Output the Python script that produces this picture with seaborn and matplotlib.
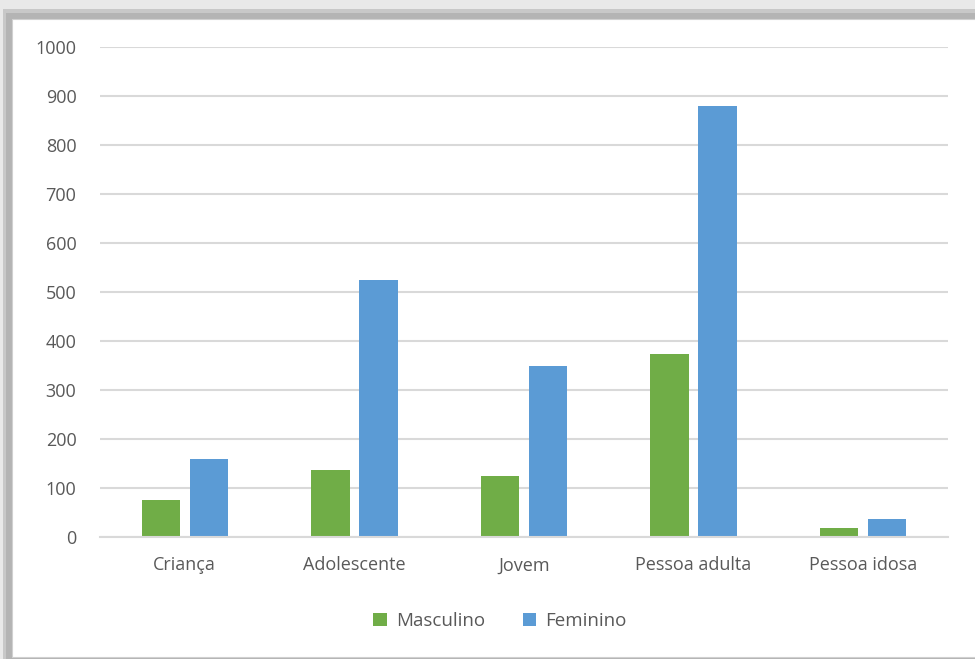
import pandas as pd
import numpy as np
import matplotlib
matplotlib.use("Agg")
import matplotlib.pyplot as plt
import seaborn as sns
from matplotlib.patches import Rectangle

# Faixa etária por sexo
categorias = ["Criança", "Adolescente", "Jovem", "Pessoa adulta", "Pessoa idosa"]
masculino = [76, 137, 124, 373, 18]
feminino = [160, 525, 350, 880, 37]
series = ["Masculino", "Feminino"]
cores = ["#70AD47", "#5B9BD5"]

df = pd.DataFrame({
    "categoria": categorias * 2,
    "sexo": ["Masculino"] * len(categorias) + ["Feminino"] * len(categorias),
    "valor": masculino + feminino,
})

sns.set_style("white")
plt.rcParams["font.family"] = ["Open Sans", "DejaVu Sans"]

W, H = 975, 659
fig = plt.figure(figsize=(W / 100, H / 100), dpi=100)
fig.patch.set_facecolor("#e9e9e9")

# moldura com sombra (estilo Excel)
fig.patches.append(Rectangle((3 / W, 0), 1, 1 - 9 / H, transform=fig.transFigure,
                             facecolor="#c8c8c8", edgecolor="none", zorder=-9))
fig.patches.append(Rectangle((6 / W, 0), 1, 1 - 13 / H, transform=fig.transFigure,
                             facecolor="#b4b4b4", edgecolor="none", zorder=-9))
fig.patches.append(Rectangle((12 / W, 2 / H), 1, 1 - 21 / H, transform=fig.transFigure,
                             facecolor="white", edgecolor="#d0d0d0", lw=0.8, zorder=-8))

ax = fig.add_axes([100 / W, 1 - 537 / H, 848 / W, 490 / H])
ax.set_facecolor("none")

sns.barplot(data=df, x="categoria", y="valor", hue="sexo", hue_order=series,
            order=categorias, palette=cores, width=0.565, gap=0.2,
            saturation=1, edgecolor="none", ax=ax, legend=True)

ax.set_ylim(0, 1000)
ax.set_yticks(np.arange(0, 1001, 100))
ax.set_xlim(-0.5, len(categorias) - 0.5)
ax.grid(axis="y", color="#d9d9d9", linewidth=1.5)
ax.set_axisbelow(True)
for s in ["top", "right", "left"]:
    ax.spines[s].set_visible(False)
ax.spines["bottom"].set_color("#d9d9d9")
ax.spines["bottom"].set_linewidth(1.5)
ax.tick_params(axis="both", length=0, labelsize=13, colors="#595959")
ax.tick_params(axis="y", pad=17)
ax.tick_params(axis="x", pad=14)
ax.set_xlabel("")
ax.set_ylabel("")

handles, labels = ax.get_legend_handles_labels()
ax.get_legend().remove()
fig.legend(handles, labels, loc="center", bbox_to_anchor=(500 / W, 1 - 621 / H),
           ncol=2, frameon=False, fontsize=13.5, labelcolor="#595959",
           handlelength=0.7, handleheight=0.7, handletextpad=0.5, columnspacing=2.0)

fig.savefig("out.png", dpi=100, facecolor=fig.get_facecolor())
